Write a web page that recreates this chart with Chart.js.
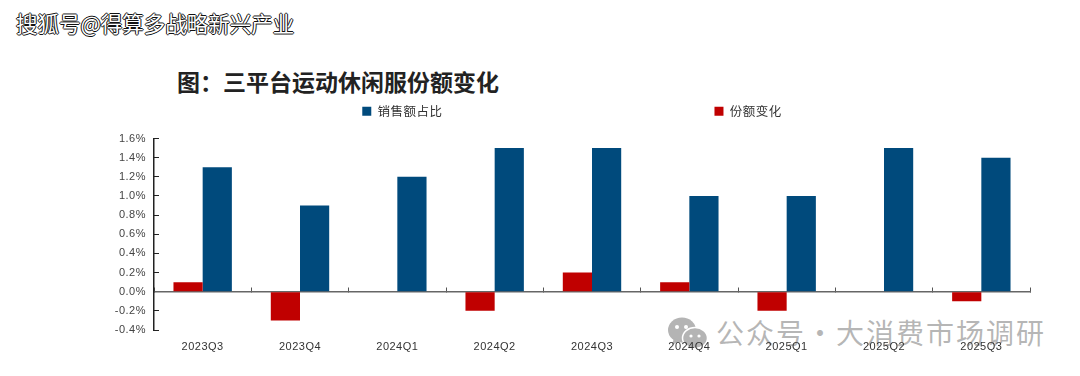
<!DOCTYPE html>
<html lang="zh"><head><meta charset="utf-8">
<style>
html,body{margin:0;padding:0;background:#fff;width:1080px;height:376px;overflow:hidden}
#wrap{position:relative;width:1080px;height:376px}
canvas{position:absolute;left:0;top:0;z-index:2}
.t{position:absolute;white-space:nowrap;font-family:"Noto Sans CJK SC",sans-serif;line-height:1;z-index:1}
#src{left:16px;top:12px;font-size:21.5px;color:#fff;text-shadow:1px 0 0 #111,-1px 0 0 #111,0 1px 0 #111,0 -1px 0 #111}
#title{left:177px;top:70px;font-size:23px;font-weight:700;color:#222}
#mark{left:716px;top:318px;font-size:28px;letter-spacing:2px;color:rgba(150,150,150,.7)}
#logo{position:absolute;left:667px;top:316px;z-index:1}
</style></head><body><div id="wrap">
<canvas id="c" width="1080" height="376"></canvas>
<div class="t" id="src">搜狐号@得算多战略新兴产业</div>
<div class="t" id="title">图:三平台运动休闲服份额变化</div>
<svg id="logo" width="42" height="36" viewBox="0 0 42 36">
<ellipse cx="15" cy="14" rx="14" ry="12.5" fill="#b4b4b4"/><path d="M7 22 L5 29 L13 25Z" fill="#b4b4b4"/>
<ellipse cx="28" cy="22" rx="12.5" ry="10.5" fill="#b4b4b4" stroke="#fff" stroke-width="1.5"/>
<circle cx="10" cy="11" r="2" fill="#fff"/><circle cx="19" cy="11" r="2" fill="#fff"/>
<circle cx="24" cy="20" r="1.6" fill="#fff"/><circle cx="32" cy="20" r="1.6" fill="#fff"/>
</svg>
<div class="t" id="mark">公众号·大消费市场调研</div>
</div>
<script src="https://cdn.jsdelivr.net/npm/chart.js@4/dist/chart.umd.min.js"></script>
<script>
const categories=["2023Q3","2023Q4","2024Q1","2024Q2","2024Q3","2024Q4","2025Q1","2025Q2","2025Q3"];
const shareValues=[1.3,0.9,1.2,1.5,1.5,1.0,1.0,1.5,1.4];
const changeValues=[0.1,-0.3,0,-0.2,0.2,0.1,-0.2,0,-0.1];
const shareName="销售额占比";
const changeName="份额变化";
const tweaks={id:'tweaks',
 afterLayout(c){c.legend.top-=11;c.legend.bottom-=11;},
 beforeDraw(c){c.ctx.letterSpacing='0.5px';}};
new Chart(document.getElementById('c'),{
 type:'bar',
 data:{labels:categories,datasets:[
  {label:changeName,data:changeValues,backgroundColor:'#c00000',categoryPercentage:0.6,barPercentage:1},
  {label:shareName,data:shareValues,backgroundColor:'#004a7c',categoryPercentage:0.6,barPercentage:1}
 ]},
 plugins:[tweaks],
 options:{responsive:false,animation:false,
  layout:{padding:{left:80,right:50,top:85,bottom:46}},
  plugins:{tooltip:{enabled:false},title:{display:false},
   legend:{position:'top',labels:{boxWidth:9,boxHeight:9,padding:31,color:'#333',font:{family:'"Noto Sans CJK SC"',size:12.5},
    generateLabels(chart){
     const items=Chart.defaults.plugins.legend.labels.generateLabels(chart);
     const gap={text:' '.repeat(59),fillStyle:'rgba(0,0,0,0)',strokeStyle:'rgba(0,0,0,0)',lineWidth:0,hidden:false,datasetIndex:-1};
     return [items[1],gap,items[0]];
    }}}},
  scales:{
   x:{position:{y:0},offset:true,
    grid:{drawOnChartArea:false,color:'#555',tickLength:-5},
    border:{color:'#666',width:1.5},
    ticks:{padding:54,maxRotation:0,autoSkip:false,color:'#333',font:{family:'"Liberation Sans"',size:11}}},
   y:{min:-0.4,max:1.6,afterFit(s){s.width=74;},
    grid:{drawOnChartArea:false,color:'#222',tickLength:-5},
    border:{color:'#222',width:1.5},
    ticks:{stepSize:0.2,autoSkip:false,padding:13,color:'#444',font:{family:'"Liberation Sans"',size:11},
     callback:v=>v.toFixed(1)+'%'}}
  }}
});
document.getElementById('title').textContent='图\uFF1A三平台运动休闲服份额变化';
</script></body></html>
